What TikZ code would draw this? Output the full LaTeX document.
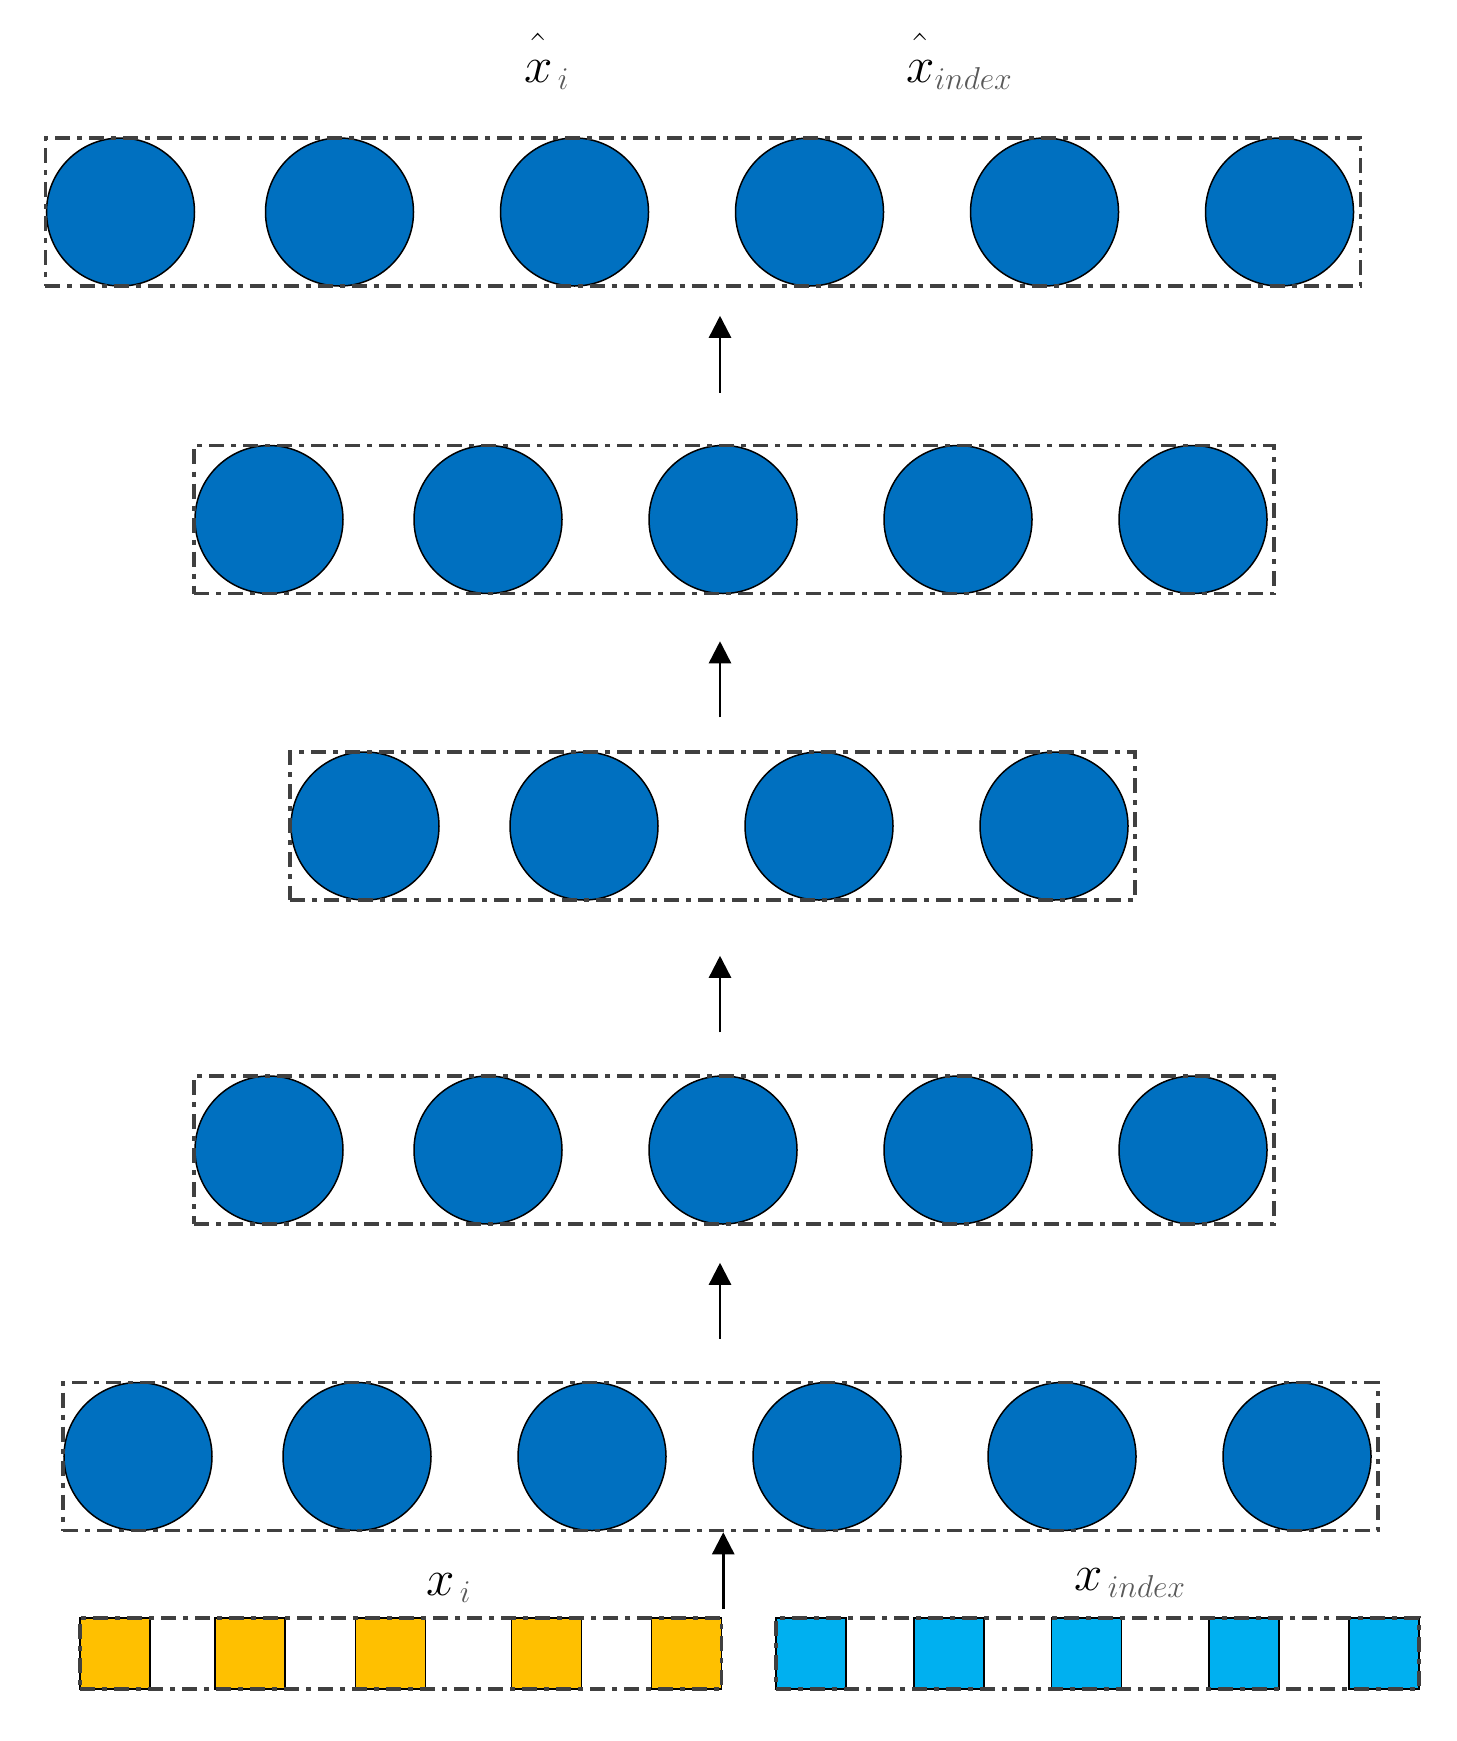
\RequirePackage{fix-cm}
\documentclass[tikz,border=0pt]{standalone}
\usepackage{amsmath}
\usepackage{amssymb}
\usepackage{tikz}
\usetikzlibrary{arrows.meta,positioning,fit,backgrounds}
\definecolor{unitblue}{HTML}{0070C0}
\definecolor{xiyellow}{HTML}{FFC000}
\definecolor{xncyan}{HTML}{00B0F0}
\DeclareMathSizes{29}{29}{18}{13}

\begin{document}
\begin{tikzpicture}  %one unit is one pixel of the sketch
		[x=0.2mm, y=-0.2mm, node distance=17.4mm,
		neuron/.style={circle,draw=black,line width=0.3mm,fill=unitblue,inner sep=0mm,outer sep=0mm,minimum size=29.6mm},
		xisq/.style={rectangle,draw=black,line width=0.3mm,fill=xiyellow,inner sep=0mm,outer sep=0mm,minimum width=14mm,minimum height=14.2mm},
		xnsq/.style={xisq,fill=xncyan},
		dashdot/.style={draw=black!75,line width=0.7mm,dash pattern=on 3mm off 1.4mm on 1mm off 1.4mm},
		layerbox/.style={dashdot,inner ysep=0mm,inner xsep=0.8mm,xshift=0.6mm},
		inbox/.style={dashdot,inner sep=0mm},
		uparrow/.style={-{Triangle[length=4.4mm,width=4.4mm]},line width=0.5mm},
		lbl/.style={anchor=base west,inner sep=0mm,font=\fontsize{29}{34}\selectfont}]

		\useasboundingbox (0,0) rectangle (1457,1741);

		% output layer
		\node[neuron] (o1) at (120.5,212) {};
		\node[neuron] (o2) [right=14.2mm of o1] {};
		\node[neuron] (o3) [right=of o2] {};
		\node[neuron] (o4) [right=of o3] {};
		\node[neuron] (o5) [right=of o4] {};
		\node[neuron] (o6) [right=of o5] {};
		\node[layerbox, fit=(o1)(o6)] (boxo) {};

		\node[neuron] (d1) at (269,519.5) {};
		\node[neuron] (d2) [right=14.2mm of d1] {};
		\node[neuron] (d3) [right=of d2] {};
		\node[neuron] (d4) [right=of d3] {};
		\node[neuron] (d5) [right=of d4] {};
		\node[layerbox, fit=(d1)(d5)] (boxd) {};

		\node[neuron] (z1) at (365,826) {};
		\node[neuron] (z2) [right=14.2mm of z1] {};
		\node[neuron] (z3) [right=of z2] {};
		\node[neuron] (z4) [right=of z3] {};
		\node[layerbox, fit=(z1)(z4)] (boxz) {};

		\node[neuron] (e1) at (269,1150) {};
		\node[neuron] (e2) [right=14.2mm of e1] {};
		\node[neuron] (e3) [right=of e2] {};
		\node[neuron] (e4) [right=of e3] {};
		\node[neuron] (e5) [right=of e4] {};
		\node[layerbox, fit=(e1)(e5)] (boxe) {};

		\node[neuron] (h1) at (138,1456.5) {};
		\node[neuron] (h2) [right=14.2mm of h1] {};
		\node[neuron] (h3) [right=of h2] {};
		\node[neuron] (h4) [right=of h3] {};
		\node[neuron] (h5) [right=of h4] {};
		\node[neuron] (h6) [right=of h5] {};
		\node[layerbox, fit=(h1)(h6)] (boxh) {};

		% inputs
		\node[xisq] (xi1) at (115,1653.5) {};
		\node[xisq] (xi2) [right=13mm of xi1] {};
		\node[xisq] (xi3) [right=14.1mm of xi2] {};
		\node[xisq] (xi4) [right=17.2mm of xi3] {};
		\node[xisq] (xi5) [right=14mm of xi4] {};
		\node[inbox, fit=(xi1)(xi5)] (boxxi) {};

		\node[xnsq] (xn1) at (811,1653.5) {};
		\node[xnsq] (xn2) [right=13.6mm of xn1] {};
		\node[xnsq] (xn3) [right=13.5mm of xn2] {};
		\node[xnsq] (xn4) [right=17.5mm of xn3] {};
		\node[xnsq] (xn5) [right=14mm of xn4] {};
		\node[inbox, fit=(xn1)(xn5)] (boxxn) {};

		\node[lbl] (hatxi) at (524,82) {$\hat{\vphantom{l}x}_{\,\color{black!65}i}$};
		\node[lbl] (hatxn) at (906,82) {$\hat{\vphantom{l}x}_{\color{black!65}index}$};
		\node[lbl] (xi) at (426,1595) {$x_{\,\color{black!65}i}$};
		\node[lbl] (xn) at (1074,1590) {$x_{\,\color{black!65}index}$};

		\coordinate (spine) at (720,0);
		\draw[uparrow, shorten <=10.2mm, shorten >=5.6mm] (boxd.north -| spine) -- (boxo.south -| spine);
		\draw[uparrow, shorten <=6.6mm, shorten >=9.2mm] (boxz.north -| spine) -- (boxd.south -| spine);
		\draw[uparrow, shorten <=8.4mm, shorten >=10.8mm] (boxe.north -| spine) -- (boxz.south -| spine);
		\draw[uparrow, shorten <=8.4mm, shorten >=7.4mm] (boxh.north -| spine) -- (boxe.south -| spine);
		\draw[uparrow, shorten <=1.4mm] (boxxi.north east) -- (boxxi.north east |- boxh.south);
	\end{tikzpicture}
\end{document}
